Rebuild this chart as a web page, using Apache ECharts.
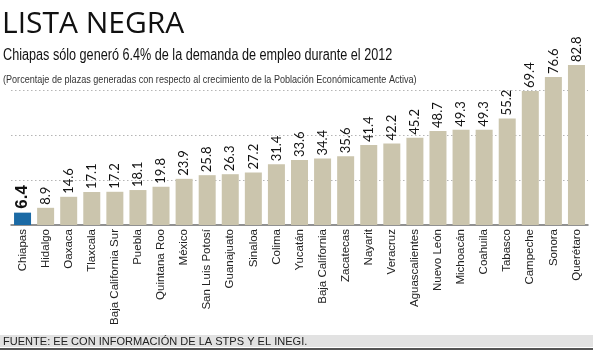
<!DOCTYPE html>
<html>
<head>
<meta charset="utf-8">
<script src="https://cdn.jsdelivr.net/npm/echarts@6/dist/echarts.min.js"></script>
<style>html,body{margin:0;padding:0;background:#fff}#c{width:593px;height:354px}</style>
</head>
<body>
<div id="c"></div>
<script>
const categories = ['Chiapas','Hidalgo','Oaxaca','Tlaxcala','Baja California Sur','Puebla','Quintana Roo','México','San Luis Potosí','Guanajuato','Sinaloa','Colima','Yucatán','Baja California','Zacatecas','Nayarit','Veracruz','Aguascalientes','Nuevo León','Michoacán','Coahuila','Tabasco','Campeche','Sonora','Querétaro'];
const values = [6.4,8.9,14.6,17.1,17.2,18.1,19.8,23.9,25.8,26.3,27.2,31.4,33.6,34.4,35.6,41.4,42.2,45.2,48.7,49.3,49.3,55.2,69.4,76.6,82.8];
const highlight = 'Chiapas';
const titleText = 'LISTA NEGRA';
const subtitleText = 'Chiapas sólo generó 6.4% de la demanda de empleo durante el 2012';
const noteText = '(Porcentaje de plazas generadas con respecto al crecimiento de la Población Económicamente Activa)';
const sourceText = 'FUENTE: EE CON INFORMACIÓN DE LA STPS Y EL INEGI.';

const chart = echarts.init(document.getElementById('c'), null, {renderer:'canvas'});
const narrow = '"Liberation Sans Narrow", "Liberation Sans", sans-serif';
const data = values.map((v, i) => {
  if (categories[i] === highlight) {
    return {value: v, itemStyle: {color: '#1b6aa5'},
      label: {fontSize: 17, fontWeight: 'bold', fontFamily: '"Liberation Sans", sans-serif', distance: 4}};
  }
  return v;
});
chart.setOption({
  animation: false,
  backgroundColor: '#fff',
  grid: {left: 11, right: 5, top: 45, bottom: 129, containLabel: false},
  xAxis: {
    type: 'category', data: categories,
    axisLine: {lineStyle: {color: '#6e6e6e', width: 1.5}},
    axisTick: {show: false},
    axisLabel: {rotate: 90, margin: 4, color: '#222', fontFamily: narrow, fontSize: 11.5, interval: 0}
  },
  yAxis: {
    type: 'value', min: 0, max: 93.2, interval: 23.3,
    axisLabel: {show: false}, axisLine: {show: false}, axisTick: {show: false},
    splitLine: {show: true, showMaxLine: false, showMinLine: false, lineStyle: {color: '#b5b5b5', type: [1.5, 2.5], width: 1}}
  },
  series: [{
    type: 'bar', data: data, barWidth: 17,
    itemStyle: {color: '#cbc5ad'},
    label: {show: true, position: 'top', rotate: 90, align: 'left', verticalAlign: 'middle',
      distance: 3, color: '#111', fontSize: 13, fontFamily: 'Lato, sans-serif',
      formatter: p => String(p.value)}
  }],
  graphic: [
    {type: 'text', x: 2, y: 9, style: {text: titleText, font: '30px "Open Sans"', fill: '#111', verticalAlign: 'top'}},
    {type: 'text', x: 3, y: 48, scaleX: 0.79, style: {text: subtitleText, font: '16px ' + narrow, fill: '#111', verticalAlign: 'top'}},
    {type: 'text', x: 3, y: 74, scaleX: 0.825, style: {text: noteText, font: '11px ' + narrow, fill: '#333', verticalAlign: 'top'}},
    {type: 'rect', shape: {x: 0, y: 335, width: 593, height: 12}, style: {fill: '#e2e2e2'}, z: -1},
    {type: 'rect', shape: {x: 0, y: 348, width: 593, height: 2}, style: {fill: '#555'}},
    {type: 'text', x: 3, y: 336, scaleX: 0.96, style: {text: sourceText, font: '11.5px ' + narrow, fill: '#222', verticalAlign: 'top'}}
  ]
});
</script>
</body>
</html>
